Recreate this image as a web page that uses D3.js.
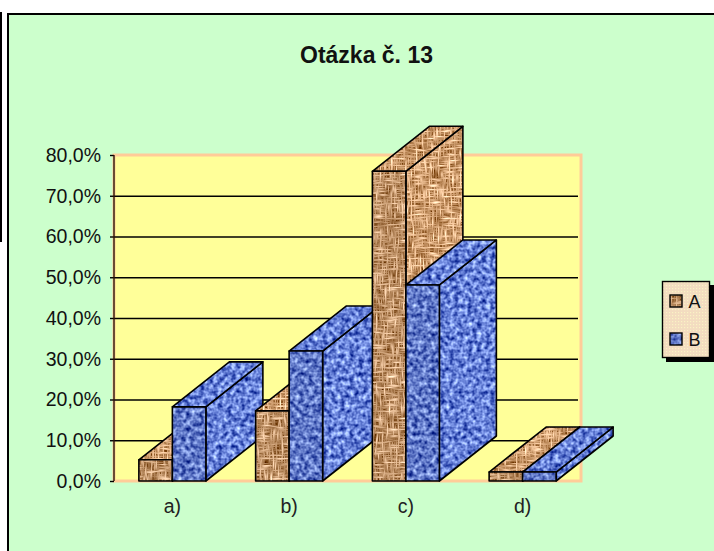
<!DOCTYPE html>
<html>
  <head>
    <meta charset="utf-8" />
    <style>
      html, body { margin: 0; padding: 0; background: #fff; }
      svg { display: block; }
      text { font-family: "Liberation Sans", Arial, sans-serif; fill: #111; }
    </style>
    <script src="https://cdn.jsdelivr.net/npm/d3@7/dist/d3.min.js"></script>
  </head>
  <body>
    <div id="container"></div>
    <script>
      const categories = ["a)", "b)", "c)", "d)"];
      const seriesNames = ["A", "B"];
      const valuesA = [5.2, 17.2, 76.0, 2.2];
      const valuesB = [18.2, 31.9, 48.1, 2.2];
      const tickValues = [0, 10, 20, 30, 40, 50, 60, 70, 80];
      const titleText = "Otázka č. 13";

      const svgW = 714, svgH = 551;
      const plotL = 114, plotR = 581, plotT = 155, plotB = 481;
      const depthX = 57, depthY = -45;

      const svg = d3.select("#container").append("svg")
        .attr("width", svgW).attr("height", svgH);
      const defs = svg.append("defs");

      function newFilter(id) {
        return defs.append("filter").attr("id", id)
          .attr("x", 0).attr("y", 0).attr("width", 1).attr("height", 1)
          .attr("color-interpolation-filters", "sRGB");
      }
      function noise(f, freq, seed, matrix, out) {
        f.append("feTurbulence").attr("type", "fractalNoise")
          .attr("baseFrequency", freq).attr("numOctaves", 2).attr("seed", seed).attr("result", out + "n");
        f.append("feColorMatrix").attr("in", out + "n").attr("type", "matrix")
          .attr("values", matrix).attr("result", out);
      }
      // brown = two streak directions laid over each other, looks like weave
      function weave(id, seed, k) {
        const f = newFilter(id);
        const m = `${1.2*k} 0 0 0 ${0.1*k}  ${1.3*k} 0 0 0 ${-0.14*k}  ${1.4*k} 0 0 0 ${-0.37*k}  0 0 0 0 1`;
        noise(f, "0.07 0.55", seed, m, "h");
        noise(f, "0.55 0.07", seed + 3, m, "v");
        f.append("feBlend").attr("in", "h").attr("in2", "v").attr("mode", "lighten").attr("result", "w");
        f.append("feGaussianBlur").attr("in", "w").attr("stdDeviation", 0.5).attr("result", "s");
        f.append("feComposite").attr("in", "s").attr("in2", "SourceAlpha").attr("operator", "in");
      }
      // blue = blotchy noise
      function blotch(id, seed, k) {
        const f = newFilter(id);
        noise(f, "0.22", seed, `${1.2*k} 0 0 0 ${-0.2*k}  ${1.2*k} 0 0 0 ${-0.1*k}  ${0.9*k} 0 0 0 ${0.38*k}  0 0 0 0 1`, "b");
        f.append("feGaussianBlur").attr("in", "b").attr("stdDeviation", 0.5).attr("result", "s");
        f.append("feComposite").attr("in", "s").attr("in2", "SourceAlpha").attr("operator", "in");
      }
      weave("texA", 4, 0.96);
      weave("texA2", 9, 1.04);
      blotch("texB", 7, 0.94);
      blotch("texB2", 12, 1.02);

      // dithered legend background
      const dither = defs.append("pattern").attr("id", "legendBg").attr("patternUnits", "userSpaceOnUse")
        .attr("width", 3).attr("height", 3);
      dither.append("rect").attr("width", 3).attr("height", 3).attr("fill", "#f3dcc0");
      dither.append("rect").attr("width", 1.2).attr("height", 1.2).attr("fill", "#faf3c4");

      const x = d3.scaleBand().domain(categories).range([plotL, plotR]).paddingInner(0).paddingOuter(0);
      const y = d3.scaleLinear().domain([0, 80]).range([plotB, plotT]);
      const barW = 33.5;

      // background and frame
      svg.append("rect").attr("x", 8).attr("y", 14).attr("width", svgW).attr("height", svgH)
        .attr("fill", "#ccffcc");
      svg.append("path").attr("d", `M8,${svgH}V14H${svgW}`).attr("fill", "none")
        .attr("stroke", "#000").attr("stroke-width", 2);
      svg.append("line").attr("x1", 1).attr("x2", 1).attr("y1", 12).attr("y2", 242)
        .attr("stroke", "#000").attr("stroke-width", 2);

      // back wall
      svg.append("rect").attr("x", plotL).attr("y", plotT).attr("width", plotR - plotL).attr("height", plotB - plotT)
        .attr("fill", "#ffff99").attr("stroke", "#ffcc99").attr("stroke-width", 3);

      // gridlines + ticks through the axis
      const yAxis = d3.axisLeft(y).tickValues(tickValues)
        .tickFormat((d) => d.toFixed(1).replace(".", ",") + "%")
        .tickSize(4).tickPadding(9);
      const gAxis = svg.append("g").attr("transform", `translate(${plotL},0)`).call(yAxis);
      gAxis.select(".domain").remove();
      gAxis.selectAll("line").attr("stroke", "#000").attr("stroke-width", 1.4);
      gAxis.selectAll("text").attr("font-size", 19.5).attr("font-family", "Liberation Sans").attr("fill", "#222");
      svg.append("g").selectAll("line").data(tickValues.filter((d) => d > 0 && d < 80)).join("line")
        .attr("x1", plotL).attr("x2", plotR - 3)
        .attr("y1", (d) => y(d) + 0.5).attr("y2", (d) => y(d) + 0.5)
        .attr("stroke", "#000").attr("stroke-width", 1.4);
      svg.append("line").attr("x1", plotL).attr("x2", plotL)
        .attr("y1", plotT).attr("y2", plotB)
        .attr("stroke", "#2a1408").attr("stroke-width", 1.4);

      // bars, left to right so later ones cover earlier depth
      const pts = (a) => a.map((p) => p.join(",")).join(" ");
      function drawBar(g, left, val, tex) {
        const r = left + barW, t = y(val), b = y(0);
        const faces = [
          { id: tex + "2", p: [[r, t], [r + depthX, t + depthY], [r + depthX, b + depthY], [r, b]] },
          { id: tex + "2", p: [[left, t], [left + depthX, t + depthY], [r + depthX, t + depthY], [r, t]] },
          { id: tex, p: [[left, t], [r, t], [r, b], [left, b]] },
        ];
        faces.forEach((f) => {
          g.append("polygon").attr("points", pts(f.p)).attr("fill", "#000").attr("filter", `url(#${f.id})`);
          g.append("polygon").attr("points", pts(f.p)).attr("fill", "none")
            .attr("stroke", "#000").attr("stroke-width", 1.6).attr("stroke-linejoin", "round");
        });
      }
      const barsG = svg.append("g");
      categories.forEach((c, i) => {
        const start = x(c) + (x.bandwidth() - 2 * barW) / 2;
        drawBar(barsG, start, valuesA[i], "texA");
        drawBar(barsG, start + barW, valuesB[i], "texB");
      });

      // category labels
      svg.append("g").selectAll("text").data(categories).join("text")
        .attr("x", (d) => x(d) + x.bandwidth() / 2)
        .attr("y", 513).attr("text-anchor", "middle").attr("font-size", 19.5)
        .style("fill", "#222")
        .text((d) => d);

      // title
      svg.append("text").attr("x", 366.5).attr("y", 63).attr("text-anchor", "middle")
        .attr("font-size", 23).attr("font-weight", "bold").text(titleText);

      // legend
      const lg = svg.append("g");
      lg.append("rect").attr("x", 666).attr("y", 285).attr("width", 48).attr("height", 77).attr("fill", "#000");
      lg.append("rect").attr("x", 662.5).attr("y", 281.5).attr("width", 47).attr("height", 76)
        .attr("fill", "url(#legendBg)").attr("stroke", "#000").attr("stroke-width", 1.4);
      const legendY = d3.scalePoint().domain(seriesNames).range([301, 339]);
      seriesNames.forEach((s, i) => {
        const ly = legendY(s);
        lg.append("rect").attr("x", 670).attr("y", ly - 6).attr("width", 12).attr("height", 12)
          .attr("fill", "#000").attr("filter", `url(#${i ? "texB" : "texA"})`);
        lg.append("rect").attr("x", 670).attr("y", ly - 6).attr("width", 12).attr("height", 12)
          .attr("fill", "none").attr("stroke", "#000").attr("stroke-width", 1.4);
        lg.append("text").attr("x", 688.5).attr("y", ly + 7).attr("font-size", 18).text(s);
      });
    </script>
  </body>
</html>
